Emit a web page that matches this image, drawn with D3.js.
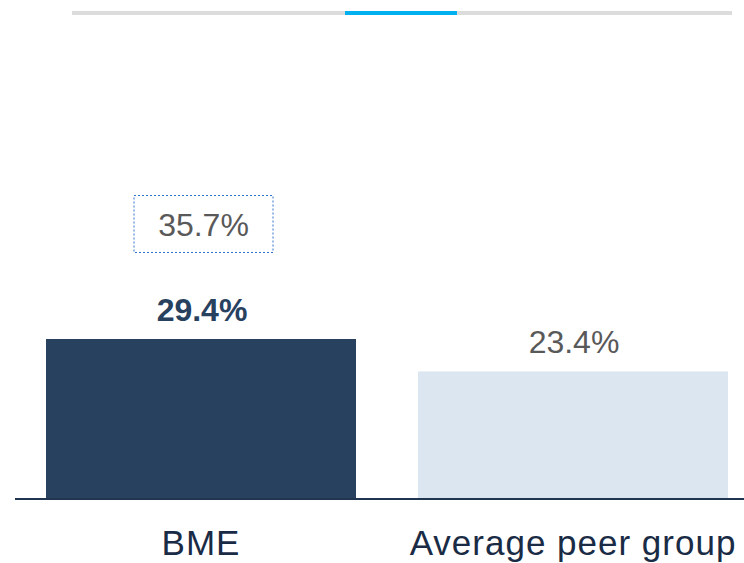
<!DOCTYPE html>
<html>
<head>
<meta charset="utf-8">
<script src="https://cdn.jsdelivr.net/npm/d3@7"></script>
<style>
  body { margin: 0; background: #fff; }
  svg { display: block; font-family: "Liberation Sans", Arial, sans-serif; }
</style>
</head>
<body>
<svg class="chart" width="744" height="563"></svg>
<script>
// chart values
var categories = ["BME", "Average peer group"];
var values = [29.4, 23.4];
var labels = ["29.4%", "23.4%"];
var highlight = "35.7%"; // boxed figure above BME

var bar_colours = ["#27415f", "#dce6f1"];
var label_colours = ["#27415f", "#595959"];

var chart = d3.select(".chart");

// scales
var x = d3.scaleBand()
    .domain(categories)
    .range([15, 759])
    .paddingInner(1 / 6)
    .paddingOuter(1 / 12);

var y = d3.scaleLinear()
    .domain([0, 29.4])
    .range([498, 339]);

// progress strip at the top
chart.append("line")
    .attr("x1", 72).attr("x2", 732)
    .attr("y1", 13).attr("y2", 13)
    .attr("stroke", "#dcdcdc")
    .attr("stroke-width", 4);
chart.append("line")
    .attr("x1", 345).attr("x2", 457)
    .attr("y1", 13).attr("y2", 13)
    .attr("stroke", "#00b0f0")
    .attr("stroke-width", 4);

// bars
chart.selectAll("rect.bar")
    .data(categories)
    .enter().append("rect")
    .attr("class", "bar")
    .attr("x", function(d) { return x(d); })
    .attr("y", function(d, i) { return y(values[i]); })
    .attr("width", x.bandwidth())
    .attr("height", function(d, i) { return y(0) - y(values[i]); })
    .attr("fill", function(d, i) { return bar_colours[i]; });

// value labels
chart.selectAll("text.value")
    .data(categories)
    .enter().append("text")
    .attr("class", "value")
    .attr("x", function(d) { return x(d) + x.bandwidth() / 2 + 1; })
    .attr("y", function(d, i) { return y(values[i]) - 18; })
    .attr("text-anchor", "middle")
    .attr("font-size", 32)
    .attr("font-weight", function(d, i) { return i == 0 ? "bold" : "normal"; })
    .attr("fill", function(d, i) { return label_colours[i]; })
    .text(function(d, i) { return labels[i]; });

// dashed box with the highlighted figure
var box_cx = x(categories[0]) + x.bandwidth() / 2 + 2.5;
var box_cy = y(values[0]) - 115;
chart.append("rect")
    .attr("x", box_cx - 69.5)
    .attr("y", box_cy - 28.5)
    .attr("width", 139)
    .attr("height", 57)
    .attr("fill", "none")
    .attr("stroke", "#2e75d0")
    .attr("stroke-width", 1)
    .attr("stroke-dasharray", "2,2");
chart.append("text")
    .attr("x", box_cx)
    .attr("y", box_cy + 12)
    .attr("text-anchor", "middle")
    .attr("font-size", 32)
    .attr("fill", "#595959")
    .text(highlight);

// baseline
chart.append("line")
    .attr("x1", 15).attr("x2", 744)
    .attr("y1", y(0) + 1).attr("y2", y(0) + 1)
    .attr("stroke", "#1f3550")
    .attr("stroke-width", 2);

// category axis
var axis = chart.append("g")
    .attr("transform", "translate(0," + (y(0) + 1) + ")")
    .call(d3.axisBottom(x).tickSize(0).tickPadding(0));
axis.select(".domain").remove();
axis.selectAll("text")
    .attr("dy", 0)
    .attr("y", 56)
    .attr("font-size", 35)
    .attr("letter-spacing", 1)
    .attr("font-family", "Liberation Sans, Arial, sans-serif")
    .attr("fill", "#1a2b45");
</script>
</body>
</html>
